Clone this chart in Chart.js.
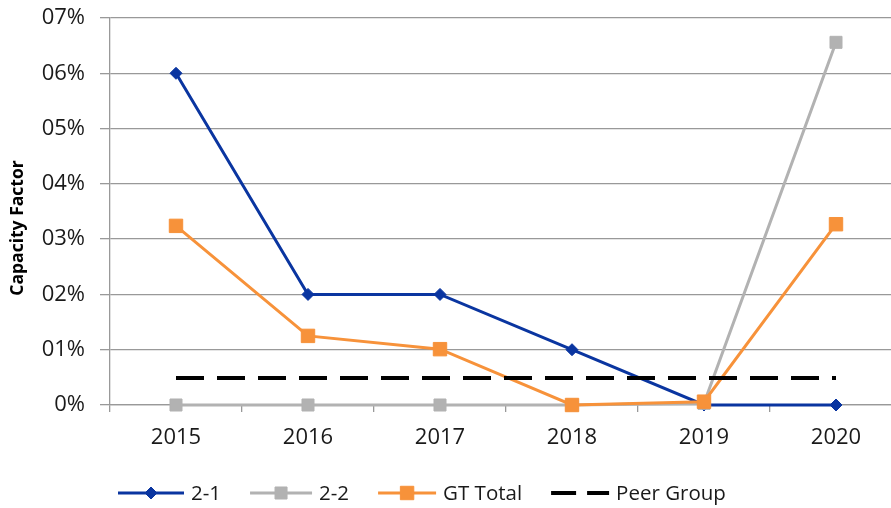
<!DOCTYPE html>
<html>
<head>
<meta charset="utf-8">
<script src="https://cdn.jsdelivr.net/npm/chart.js@4.4.0/dist/chart.umd.min.js"></script>
<style>
  html, body { margin: 0; padding: 0; background: #fff; overflow: hidden; }
  #wrap { width: 920px; height: 508px; }
</style>
</head>
<body>
<div id="wrap"><canvas id="c" width="920" height="508"></canvas></div>
<script>
const categories = ['2015', '2016', '2017', '2018', '2019', '2020'];
const series21 = [6.0, 2.0, 2.0, 1.0, 0.0, 0.0];
const series22 = [0.0, 0.0, 0.0, 0.0, 0.03, 6.56];
const gtTotal = [3.24, 1.25, 1.01, 0.0, 0.06, 3.27];
const peerGroup = [0.49, 0.49, 0.49, 0.49, 0.49, 0.49];
const yAxisTitle = 'Capacity Factor';
const seriesNames = ['2-1', '2-2', 'GT Total', 'Peer Group'];

const FONT = "'Open Sans', 'Noto Sans', sans-serif";

const legendPlugin = {
  id: 'customLegend',
  afterDraw(chart) {
    const ctx = chart.ctx;
    const y = 493;
    let x = 118;
    ctx.save();
    ctx.font = '20.5px ' + FONT;
    ctx.textBaseline = 'middle';
    chart.data.datasets.forEach((ds, i) => {
      const lineLen = i === 0 ? 66 : (i === 1 ? 62 : 58);
      ctx.save();
      ctx.strokeStyle = ds.borderColor;
      ctx.lineWidth = ds.borderWidth;
      if (ds.borderDash && ds.borderDash.length) ctx.setLineDash([25, 11]);
      ctx.beginPath();
      ctx.moveTo(x, y);
      ctx.lineTo(x + lineLen, y);
      ctx.stroke();
      ctx.restore();
      if (ds.pointRadius > 0) {
        ctx.fillStyle = ds.pointBackgroundColor;
        ctx.strokeStyle = ds.pointBorderColor;
        ctx.lineWidth = ds.pointBorderWidth;
        ctx.beginPath();
        const r = ds.pointRadius;
        const cx = x + lineLen / 2;
        if (ds.pointStyle === 'rectRot') {
          ctx.moveTo(cx - r, y); ctx.lineTo(cx, y - r); ctx.lineTo(cx + r, y); ctx.lineTo(cx, y + r);
        } else {
          const h = r * Math.SQRT1_2;
          ctx.rect(cx - h, y - h, 2 * h, 2 * h);
        }
        ctx.closePath();
        ctx.fill();
        ctx.stroke();
      }
      ctx.fillStyle = '#1a1a1a';
      const tx = x + lineLen + 7;
      ctx.fillText(ds.label, tx, y + 1);
      x = tx + ctx.measureText(ds.label).width + 29;
    });
    // y-axis title
    ctx.translate(18, 228);
    ctx.rotate(-Math.PI / 2);
    ctx.font = 'bold 17.5px ' + FONT;
    ctx.textAlign = 'center';
    ctx.textBaseline = 'middle';
    ctx.fillStyle = '#000';
    ctx.fillText(yAxisTitle, 0, 0);
    ctx.restore();
  }
};

new Chart(document.getElementById('c'), {
  type: 'line',
  data: {
    labels: categories,
    datasets: [
      {
        label: seriesNames[0], data: series21, order: 4, clip: false,
        borderColor: '#0A35A0', backgroundColor: '#0A35A0', borderWidth: 3,
        pointStyle: 'rectRot', pointRadius: 6, pointBorderWidth: 1,
        pointBackgroundColor: '#0A35A0', pointBorderColor: '#0A35A0', tension: 0
      },
      {
        label: seriesNames[1], data: series22, order: 3, clip: false,
        borderColor: '#B2B2B2', backgroundColor: '#B2B2B2', borderWidth: 3,
        pointStyle: 'rect', pointRadius: 8.5, pointBorderWidth: 1,
        pointBackgroundColor: '#B2B2B2', pointBorderColor: '#B2B2B2', tension: 0
      },
      {
        label: seriesNames[2], data: gtTotal, order: 2, clip: false,
        borderColor: '#F7923A', backgroundColor: '#F7923A', borderWidth: 3,
        pointStyle: 'rect', pointRadius: 9.5, pointBorderWidth: 1,
        pointBackgroundColor: '#F7923A', pointBorderColor: '#F7923A', tension: 0
      },
      {
        label: seriesNames[3], data: peerGroup, order: 1, clip: false,
        borderColor: '#000000', backgroundColor: '#000000', borderWidth: 4,
        borderDash: [28, 13], borderCapStyle: 'butt',
        pointRadius: 0, tension: 0
      }
    ]
  },
  options: {
    responsive: false,
    devicePixelRatio: 1,
    animation: false,
    layout: { padding: { left: 0, right: 18, top: 18, bottom: 0 } },
    plugins: { legend: { display: false }, tooltip: { enabled: false }, title: { display: false } },
    scales: {
      x: {
        type: 'category',
        offset: true,
        grid: {
          offset: true, drawOnChartArea: false, drawTicks: true, tickLength: 7,
          color: '#999999', lineWidth: 1.3
        },
        border: { display: true, color: '#999999', width: 1.3 },
        ticks: { color: '#1a1a1a', font: { family: FONT, size: 22 }, padding: 13, maxRotation: 0 },
        afterFit(scale) { scale.height = 103; scale.paddingLeft = 0; scale.paddingRight = 0; }
      },
      y: {
        min: 0, max: 7,
        grid: { color: '#999999', lineWidth: 1.3, tickLength: 10 },
        border: { display: true, color: '#999999', width: 1.3 },
        ticks: {
          stepSize: 1, color: '#1a1a1a', font: { family: FONT, size: 22 }, padding: 15,
          callback: (v) => (v === 0 ? '0%' : '0' + v + '%')
        },
        afterFit(scale) { scale.width = 110; scale.paddingTop = 0; scale.paddingBottom = 0; }
      }
    }
  },
  plugins: [legendPlugin]
});
</script>
</body>
</html>
